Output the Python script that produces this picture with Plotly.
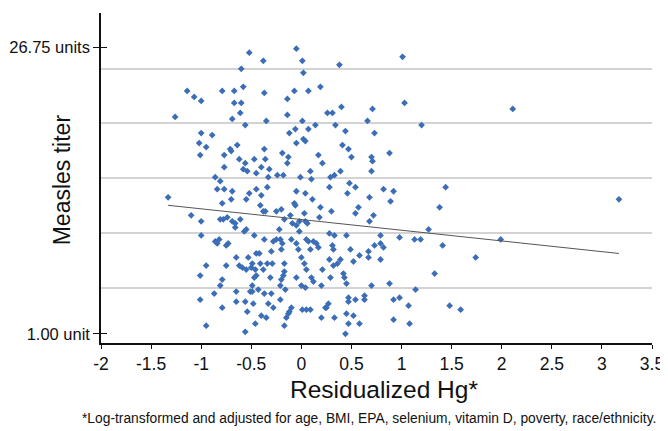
import plotly.graph_objects as go

# Residualized Hg (x) and log10 measles titer (y)
hg = [-0.52, -0.38, -0.60, -0.05, -1.14, -1.07, -1.00, -0.79, -0.67, -0.58,
      -0.37, -0.07, -0.14, -0.67, -0.60, -0.61, -0.69, -0.56, -0.35, -0.14,
      -1.26, -1.00, -0.89, -1.02, -0.95, -1.01, -0.71, -0.70, -0.64, -0.77,
      -0.62, -0.56, -0.47, -0.37, -0.36, -0.40, -0.32, -0.19, -0.13, -0.14,
      -0.12, -0.06, -0.05, -0.77, -0.58, -0.54, -0.45, -0.24, -0.18, -0.86,
      -0.33, -0.01, -0.81, -0.84, -0.77, -0.69, -0.52, -0.45, -0.40, -0.34,
      -0.70, -0.55, -0.79, -0.41, -1.33, -1.10, -1.00, -0.81, -0.78, -0.74,
      -0.69, -0.66, -0.61, -0.66, -0.55, -0.57, -0.38, -0.36, -0.25, -0.20,
      -0.07, -0.06, -0.11, -0.17, -0.09, -0.05, -1.00, -0.86, -0.84, -0.82,
      -0.75, -0.73, -0.47, -0.37, -0.28, -0.25, -0.22, -0.21, -0.19, -0.20,
      -0.30, -0.10, -0.05, -0.03, -0.45, -0.42, -0.65, -0.53, -0.49, -0.41,
      -0.34, -0.29, -0.17, -0.95, -0.75, -0.62, -0.59, -0.55, -0.50, -0.46,
      -0.45, -0.47, -0.38, -0.31, -0.17, -0.18, -0.20, -0.05, -1.01, -0.79,
      -0.81, -0.49, -0.21, -0.87, -0.65, -0.51, -0.49, -0.43, -0.37, -0.30,
      -1.01, -0.65, -0.56, -0.48, -0.33, -0.21, -0.79, -0.28, -0.10, -0.12,
      -0.13, -0.15, -0.54, -0.40, -0.35, -0.95, -0.46, -0.17, -0.56,
      0.01, 0.02, 0.38, 1.01, 0.07, 0.19, 0.01, 0.02, 0.04, 0.07,
      0.14, 0.26, 0.31, 0.40, 0.34, 0.44, 0.71, 0.66, 0.73, 1.03,
      1.20, 0.41, 0.47, 0.50, 0.17, 0.21, 0.70, 0.71, 0.88, 0.70,
      0.39, 0.33, 0.29, 0.09, 0.10, 0.28, 0.48, 0.54, 0.46, 0.68,
      0.82, 0.92, 0.89, 1.44, 1.38, -0.05, 0.04, 0.11, 0.03, 0.19,
      0.30, 0.57, 0.54, 0.72, 0.68, -0.02, 0.04, 0.06, 0.18, -0.02,
      0.05, 0.07, 0.12, 0.15, 0.17, 0.09, 0.28, 0.33, 0.45, 0.31,
      0.32, 0.49, 0.67, 0.73, 0.79, 0.82, 0.79, 0.98, 1.13, 1.19,
      1.27, 1.41, 1.74, 0.58, 0.67, 0.52, 0.79, 0.28, 0.39, 0.36,
      0.32, 0.00, 0.03, 0.05, 0.21, 0.29, 0.42, 0.43, 0.45, 1.33,
      0.88, 0.70, 1.14, 0.10, 0.12, 0.00, 0.04, 0.20, -0.16, 0.47,
      0.47, 0.54, 0.63, 0.63, 0.92, 0.98, 1.07, 1.48, 1.59, 0.01,
      0.05, 0.09, 0.24, 0.27, 0.25, 0.45, 0.52, 0.20, 0.33, 0.47,
      0.58, 0.92, 1.08, 0.44, 2.11, 3.17, 1.99]

log_titer = [1.40, 1.36, 1.32, 1.42, 1.21, 1.18, 1.16, 1.21, 1.21, 1.23,
             1.20, 1.21, 1.17, 1.15, 1.15, 1.10, 1.07, 1.04, 1.06, 1.09,
             1.08, 1.00, 0.99, 0.95, 0.93, 0.89, 0.92, 0.91, 0.94, 0.89,
             0.87, 0.85, 0.87, 0.92, 0.87, 0.83, 0.82, 0.90, 0.88, 0.85,
             1.00, 1.02, 0.95, 0.83, 0.82, 0.81, 0.80, 0.79, 0.79, 0.78,
             0.78, 0.78, 0.76, 0.72, 0.72, 0.71, 0.70, 0.72, 0.69, 0.73,
             0.67, 0.67, 0.65, 0.64, 0.68, 0.59, 0.56, 0.57, 0.57, 0.58,
             0.56, 0.55, 0.57, 0.53, 0.52, 0.51, 0.61, 0.61, 0.61, 0.62,
             0.65, 0.64, 0.59, 0.57, 0.55, 0.54, 0.49, 0.46, 0.45, 0.47,
             0.44, 0.45, 0.49, 0.47, 0.46, 0.47, 0.52, 0.47, 0.45, 0.42,
             0.41, 0.47, 0.45, 0.42, 0.40, 0.40, 0.38, 0.38, 0.35, 0.35,
             0.35, 0.35, 0.35, 0.34, 0.34, 0.34, 0.33, 0.32, 0.33, 0.32,
             0.29, 0.28, 0.32, 0.28, 0.31, 0.29, 0.27, 0.28, 0.29, 0.27,
             0.24, 0.24, 0.24, 0.20, 0.21, 0.21, 0.21, 0.22, 0.20, 0.20,
             0.17, 0.16, 0.16, 0.15, 0.15, 0.17, 0.13, 0.13, 0.13, 0.11,
             0.10, 0.08, 0.11, 0.09, 0.08, 0.04, 0.05, 0.04, 0.01,
             1.36, 1.30, 1.34, 1.38, 1.21, 1.23, 1.06, 0.97, 0.96, 1.02,
             1.04, 1.10, 1.10, 1.13, 1.04, 1.01, 1.12, 1.06, 1.00, 1.15,
             1.04, 0.94, 0.92, 0.88, 0.89, 0.85, 0.88, 0.86, 0.90, 0.81,
             0.81, 0.79, 0.78, 0.81, 0.77, 0.73, 0.75, 0.73, 0.70, 0.68,
             0.72, 0.71, 0.66, 0.73, 0.63, 0.71, 0.70, 0.67, 0.60, 0.63,
             0.61, 0.63, 0.60, 0.59, 0.56, 0.56, 0.56, 0.55, 0.58, 0.51,
             0.47, 0.46, 0.46, 0.45, 0.43, 0.42, 0.50, 0.49, 0.49, 0.44,
             0.42, 0.42, 0.41, 0.44, 0.45, 0.43, 0.49, 0.48, 0.47, 0.47,
             0.52, 0.44, 0.38, 0.39, 0.38, 0.36, 0.37, 0.37, 0.37, 0.35,
             0.34, 0.38, 0.35, 0.32, 0.32, 0.28, 0.30, 0.28, 0.25, 0.30,
             0.25, 0.24, 0.22, 0.28, 0.26, 0.24, 0.23, 0.24, 0.22, 0.18,
             0.16, 0.17, 0.19, 0.17, 0.17, 0.18, 0.14, 0.14, 0.12, 0.12,
             0.12, 0.12, 0.13, 0.15, 0.13, 0.10, 0.09, 0.08, 0.08, 0.05,
             0.05, 0.07, 0.05, 0.00, 1.12, 0.67, 0.47]

# Fitted regression line end points
trend_x = [-1.33, 3.17]
trend_y = [0.64, 0.40]

# Axis ticks
x_ticks = [-2, -1.5, -1, -0.5, 0, 0.5, 1, 1.5, 2, 2.5, 3, 3.5]
x_tick_labels = ["-2", "-1.5", "-1", "-0.5", "0", "0.5", "1", "1.5", "2", "2.5", "3", "3.5"]
y_ticks = [0, 1.4273]
y_tick_labels = ["1.00 unit", "26.75 units"]
y_grid = [0.2275, 0.501, 0.7745, 1.048, 1.3215, 1.595]
y_range = [-0.046, 1.598]

FONT = "Liberation Sans, Arial, sans-serif"

fig = go.Figure()
fig.add_trace(go.Scatter(
    x=hg, y=log_titer, mode="markers",
    marker=dict(symbol="diamond", size=5.2, color="#3b6eb7", line=dict(width=0)),
    showlegend=False, hoverinfo="x+y"))
fig.add_trace(go.Scatter(
    x=trend_x, y=trend_y, mode="lines",
    line=dict(color="#555555", width=1), showlegend=False))

# the page body adds an 8px offset; figure sized so the plot lands where the reference has it
fig.update_layout(
    width=660, height=423,
    margin=dict(l=93, r=16, t=5, b=88, autoexpand=False),
    paper_bgcolor="white", plot_bgcolor="white",
    font=dict(family=FONT, color="#111111", size=15),
    xaxis=dict(range=[-2, 3.5], tickvals=x_ticks, ticktext=x_tick_labels,
               showgrid=False, zeroline=False, showline=True, automargin=False,
               linecolor="#111111", linewidth=1.5,
               ticks="outside", ticklen=4, tickcolor="#111111", tickwidth=1,
               tickfont=dict(size=17.5)),
    yaxis=dict(range=y_range, tickvals=y_ticks, ticktext=y_tick_labels,
               showgrid=False, zeroline=False, showline=True, automargin=False,
               linecolor="#111111", linewidth=1.5,
               ticks="outside", ticklen=6, tickcolor="#111111", tickwidth=1,
               tickfont=dict(size=16.5)),
    yaxis2=dict(range=y_range, overlaying="y", anchor="x", side="left",
                tickvals=y_grid, showticklabels=False, ticks="", automargin=False,
                showgrid=True, gridcolor="#d3d3d3", gridwidth=1.5,
                zeroline=False, showline=False),
    yaxis3=dict(range=y_range, overlaying="y", anchor="x", side="left",
                tickvals=y_ticks, showticklabels=False, ticks="inside", automargin=False,
                ticklen=6, tickcolor="#111111", tickwidth=1,
                showgrid=False, zeroline=False, showline=False),
    annotations=[
        dict(text="Measles titer", textangle=-90, xref="paper", yref="paper",
             x=-0.0693, y=0.4955, xanchor="center", yanchor="middle",
             showarrow=False, font=dict(size=23)),
        dict(text="Residualized Hg*", xref="paper", yref="paper",
             x=0.5136, y=-0.1424, xanchor="center", yanchor="middle",
             showarrow=False, font=dict(size=24.5)),
        dict(text="*Log-transformed and adjusted for age, BMI, EPA, selenium, vitamin D, poverty, race/ethnicity.",
             xref="paper", yref="paper", x=0.4855, y=-0.228,
             xanchor="center", yanchor="middle", showarrow=False,
             font=dict(size=13.8)),
    ],
)
fig.add_trace(go.Scatter(x=[None], y=[None], yaxis="y2", showlegend=False))
fig.add_trace(go.Scatter(x=[None], y=[None], yaxis="y3", showlegend=False))

fig.write_html("out.html")
